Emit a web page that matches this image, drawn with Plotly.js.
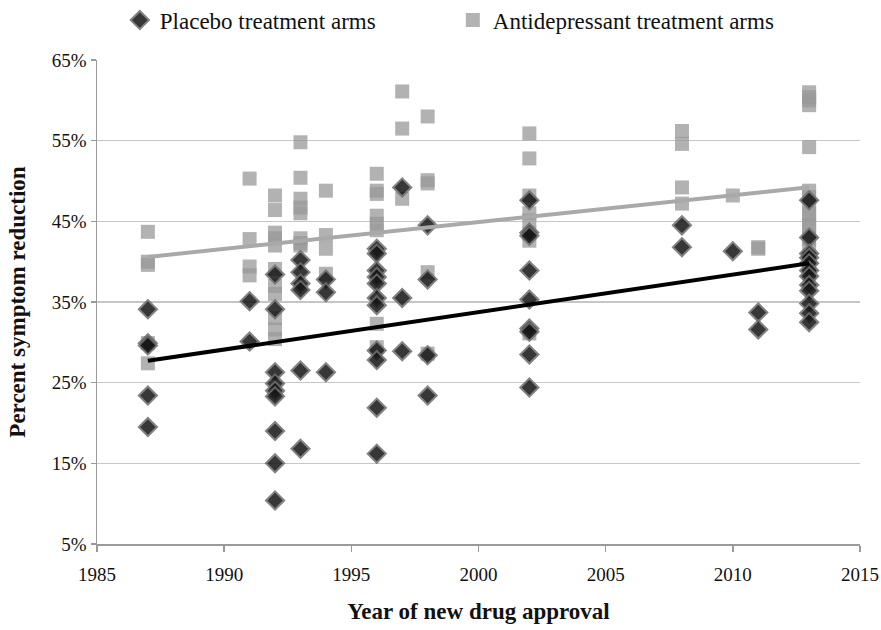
<!DOCTYPE html>
<html>
<head>
<meta charset="utf-8">
<script src="https://cdn.plot.ly/plotly-3.0.1.min.js"></script>
<style>html,body{margin:0;padding:0;background:#fff;}#chart{width:881px;height:630px;}</style>
</head>
<body>
<div id="chart"></div>
<script>
// Placebo treatment arms: [year, percent symptom reduction]
const placeboYears = [
  1987,1987,1987,1987,1987,
  1991,1991,
  1992,1992,1992,1992,1992,1992,1992,1992,1992,
  1993,1993,1993,1993,1993,1993,
  1994,1994,1994,
  1996,1996,1996,1996,1996,1996,1996,1996,1996,1996,1996,
  1997,1997,1997,
  1998,1998,1998,1998,
  2002,2002,2002,2002,2002,2002,2002,2002,2002,
  2008,2008,
  2010,
  2011,2011,
  2013,2013,2013,2013,2013,2013,2013,2013,2013,2013,2013,2013
];
const placeboValues = [
  34.1,29.9,29.6,23.4,19.5,
  35.1,30.1,
  38.4,34.1,26.3,24.9,24.0,23.3,19.0,15.0,10.4,
  40.2,38.7,37.3,36.5,26.5,16.8,
  37.8,36.2,26.3,
  41.6,41.0,38.9,38.1,37.3,35.5,34.6,29.0,27.8,21.9,16.2,
  49.2,35.5,28.9,
  44.5,37.8,28.4,23.4,
  47.6,43.6,43.2,38.9,35.3,31.7,31.3,28.5,24.4,
  44.5,41.8,
  41.3,
  33.7,31.6,
  47.6,43.0,41.0,40.5,39.8,38.9,38.2,37.1,36.4,34.8,33.6,32.5
];
// Antidepressant treatment arms
const drugYears = [
  1987,1987,1987,1987,1987,
  1991,1991,1991,1991,
  1992,1992,1992,1992,1992,1992,1992,1992,1992,1992,1992,
  1993,1993,1993,1993,1993,1993,1993,1993,
  1994,1994,1994,1994,
  1996,1996,1996,1996,1996,1996,1996,1996,
  1997,1997,1997,
  1998,1998,1998,1998,1998,
  2002,2002,2002,2002,2002,2002,2002,2002,
  2008,2008,2008,2008,
  2010,
  2011,2011,
  2013,2013,2013,2013,2013,2013,2013,2013,2013,2013,2013,2013,2013,2013,2013,2013,2013
];
const drugValues = [
  43.7,40.0,39.6,29.9,27.4,
  50.3,42.8,39.4,38.3,
  48.2,46.4,43.6,42.9,42.0,39.1,37.0,36.0,33.0,31.6,30.4,
  54.8,50.4,47.8,46.7,46.0,42.9,42.3,42.0,
  48.8,43.3,41.6,38.5,
  50.9,48.8,48.4,45.7,44.7,43.9,32.3,29.4,
  61.1,56.5,47.8,
  58.0,50.1,49.7,38.7,28.6,
  55.9,52.8,48.2,46.0,45.1,43.5,42.6,31.1,
  56.2,54.6,49.2,47.2,
  48.2,
  41.8,41.6,
  61.0,60.4,60.0,59.4,54.2,48.8,48.0,47.0,46.0,45.3,44.5,43.6,42.8,41.6,40.5,39.6,38.5
];
const xTicks = [1985,1990,1995,2000,2005,2010,2015];
const yTicks = [5,15,25,35,45,55,65];
const yTickLabels = ['5%','15%','25%','35%','45%','55%','65%'];

function linFit(xs, ys) {
  const n = xs.length;
  let sx=0, sy=0, sxx=0, sxy=0;
  for (let i=0;i<n;i++){sx+=xs[i];sy+=ys[i];sxx+=xs[i]*xs[i];sxy+=xs[i]*ys[i];}
  const b = (n*sxy - sx*sy)/(n*sxx - sx*sx);
  const a = (sy - b*sx)/n;
  const x0 = Math.min(...xs), x1 = Math.max(...xs);
  return {x:[x0,x1], y:[a+b*x0, a+b*x1]};
}
const pFit = linFit(placeboYears, placeboValues);
const dFit = linFit(drugYears, drugValues);

const serif = '"Liberation Serif", "Times New Roman", serif';
const traces = [
  {
    type:'scatter', mode:'markers', name:'Antidepressant treatment arms',
    x: drugYears, y: drugValues,
    marker:{symbol:'square', size:14, color:'#989898', opacity:0.75, line:{width:0}}
  },
  {
    type:'scatter', mode:'markers', name:'Placebo treatment arms',
    x: placeboYears, y: placeboValues,
    marker:{symbol:'diamond', size:14, color:'#151515', opacity:0.85, line:{width:2, color:'#6e6e6e'}}
  },
  {
    type:'scatter', mode:'lines', showlegend:false, hoverinfo:'skip',
    x: dFit.x, y: dFit.y, line:{color:'#a9a9a9', width:4}
  },
  {
    type:'scatter', mode:'lines', showlegend:false, hoverinfo:'skip',
    x: pFit.x, y: pFit.y, line:{color:'#000000', width:4}
  }
];
const layout = {
  width:881, height:630,
  margin:{l:97, r:21, t:60, b:86},
  paper_bgcolor:'#fff', plot_bgcolor:'#fff',
  font:{family:serif, color:'#111', size:19},
  showlegend:true,
  legend:{orientation:'h', xref:'container', yref:'container', x:0.136, xanchor:'left', y:0.968, yanchor:'middle',
          traceorder:'reversed', font:{family:serif, size:23, color:'#111'},
          itemwidth:30, entrywidth:288, tracegroupgap:0},
  xaxis:{
    range:[1985,2015], tickmode:'array', tickvals:xTicks, ticktext:xTicks.map(String),
    showgrid:false, zeroline:false, showline:true, linecolor:'#9a9a9a', linewidth:1.5,
    ticks:'outside', ticklen:6, tickwidth:1.5, tickcolor:'#9a9a9a',
    tickfont:{family:serif, size:19, color:'#111'}, ticklabeloverflow:'allow',
    ticklabelstandoff:7, automargin:false,
    title:{text:'<b>Year of new drug approval</b>', font:{family:serif, size:23, color:'#111'}, standoff:18}
  },
  yaxis:{
    range:[5,65], tickmode:'array', tickvals:yTicks, ticktext:yTickLabels,
    showgrid:true, gridcolor:'#c6c6c6', gridwidth:1.5, zeroline:false,
    showline:true, linecolor:'#9a9a9a', linewidth:1.5,
    ticks:'outside', ticklen:5, tickwidth:1.5, tickcolor:'#9a9a9a',
    tickfont:{family:serif, size:19, color:'#111'},
    automargin:false,
    title:{text:'<b>Percent symptom reduction</b>', font:{family:serif, size:23, color:'#111'}, standoff:20}
  }
};
Plotly.newPlot('chart', traces, layout, {displayModeBar:false, staticPlot:true});
</script>
</body>
</html>
